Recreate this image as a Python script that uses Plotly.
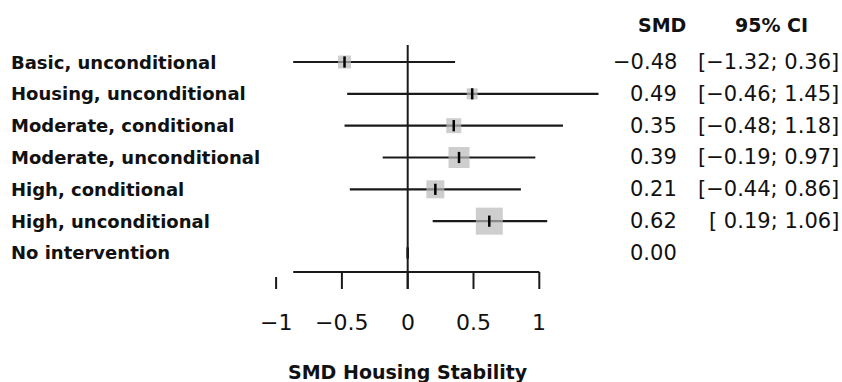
import plotly.graph_objects as go

# ---------------- data ----------------
labels = ["Basic, unconditional", "Housing, unconditional", "Moderate, conditional",
          "Moderate, unconditional", "High, conditional", "High, unconditional",
          "No intervention"]
smd = [-0.48, 0.49, 0.35, 0.39, 0.21, 0.62, 0.00]
ci_low = [-1.32, -0.46, -0.48, -0.19, -0.44, 0.19, None]
ci_high = [0.36, 1.45, 1.18, 0.97, 0.86, 1.06, None]
weights = [8.4, 6.0, 11.2, 22.0, 16.1, 36.3, None]
tick_vals = [-1, -0.5, 0, 0.5, 1]
tick_text = ["\u22121", "\u22120.5", "0", "0.5", "1"]
x_title = "SMD Housing Stability"
col_headers = ["SMD", "95% CI"]
x_clip = -0.87          # left plotting limit of the forest region

# ---------------- layout helpers ----------------
W, H = 842, 382
X0_PX, UNIT_PX = 407.7, 131.6      # pixel of x=0 and pixels per unit
ROW0_PX, ROW_PX = 62.0, 31.83      # pixel of first row and row spacing


def ry(pix):
    """pixel y -> row coordinate"""
    return (pix - ROW0_PX) / ROW_PX


def px(pix):
    """pixel x -> paper x"""
    return pix / W


def fmt(v):
    s = "{:.2f}".format(abs(v))
    return ("\u2212" + s) if v < 0 else s


def fmt_ci(lo, hi):
    los = fmt(lo) if lo < 0 else " " + fmt(lo)
    return "[" + los + "; " + fmt(hi) + "]"


INK = "#111111"
LINE = "#1a1a1a"
GRAY = "#b9b9b9"
rows = list(range(len(labels)))

fig = go.Figure()

# CI lines
lx, ly = [], []
for i, (lo, hi) in enumerate(zip(ci_low, ci_high)):
    if lo is None:
        continue
    lx += [max(lo, x_clip), hi, None]
    ly += [i, i, None]
fig.add_trace(go.Scatter(x=lx, y=ly, mode="lines",
                         line=dict(color=LINE, width=2.2), hoverinfo="skip"))

# weighted squares
wmax = max(w for w in weights if w is not None)
sq_x, sq_y, sq_s = [], [], []
for i, (m, w) in enumerate(zip(smd, weights)):
    if w is None:
        continue
    sq_x.append(m)
    sq_y.append(i)
    sq_s.append(27 * (w / wmax) ** 0.5)
fig.add_trace(go.Scatter(x=sq_x, y=sq_y, mode="markers",
                         marker=dict(symbol="square", size=sq_s, color=GRAY,
                                     line=dict(width=0)),
                         hoverinfo="skip"))

# point estimate ticks
fig.add_trace(go.Scatter(x=smd, y=rows, mode="markers",
                         marker=dict(symbol="line-ns", size=8,
                                     line=dict(color="#000000", width=2.5)),
                         hoverinfo="skip"))

# reference line at 0
y_axis = ry(272)
y_tick_end = ry(289)
fig.add_shape(type="line", x0=0, x1=0, y0=ry(45), y1=y_tick_end,
              line=dict(color=LINE, width=2))

# axis line and ticks
fig.add_shape(type="line", x0=x_clip, x1=max(tick_vals), y0=y_axis, y1=y_axis,
              line=dict(color=LINE, width=2.2))
for t in tick_vals:
    y_start = y_axis if t >= x_clip else ry(277)
    fig.add_shape(type="line", x0=t, x1=t, y0=y_start, y1=y_tick_end,
                  line=dict(color=LINE, width=2))

annotations = []
for t, tt in zip(tick_vals, tick_text):
    annotations.append(dict(x=t, y=ry(322), xref="x", yref="y", text=tt,
                            showarrow=False, xanchor="center", yanchor="middle",
                            font=dict(size=22, color=INK)))
annotations.append(dict(x=0, y=ry(372), xref="x", yref="y",
                        text="<b>" + x_title + "</b>", showarrow=False,
                        xanchor="center", yanchor="middle",
                        font=dict(size=19, color=INK)))

# left labels
for i, lab in enumerate(labels):
    annotations.append(dict(x=px(9), y=i, xref="paper", yref="y",
                            text="<b>" + lab + "</b>", showarrow=False,
                            xanchor="left", yanchor="middle",
                            font=dict(size=18, color=INK)))

# headers
annotations.append(dict(x=px(662), y=ry(25), xref="paper", yref="y",
                        text="<b>" + col_headers[0] + "</b>", showarrow=False,
                        xanchor="center", yanchor="middle",
                        font=dict(size=19, color=INK)))
annotations.append(dict(x=px(771), y=ry(25), xref="paper", yref="y",
                        text="<b>" + col_headers[1] + "</b>", showarrow=False,
                        xanchor="center", yanchor="middle",
                        font=dict(size=19, color=INK)))

# right-hand numeric columns
for i, (m, lo, hi) in enumerate(zip(smd, ci_low, ci_high)):
    annotations.append(dict(x=px(679), y=i, xref="paper", yref="y",
                            text=fmt(m), showarrow=False,
                            xanchor="right", yanchor="middle",
                            font=dict(size=21, color=INK)))
    if lo is not None:
        annotations.append(dict(x=px(841), y=i, xref="paper", yref="y",
                                text=fmt_ci(lo, hi).replace(" ", "\u00a0"),
                                showarrow=False,
                                xanchor="right", yanchor="middle",
                                font=dict(size=21, color=INK)))

fig.update_layout(
    width=W, height=H,
    margin=dict(l=0, r=0, t=0, b=0, pad=0),
    paper_bgcolor="white", plot_bgcolor="white",
    showlegend=False,
    font=dict(family="DejaVu Sans", color=INK),
    xaxis=dict(visible=False, range=[-X0_PX / UNIT_PX, (W - X0_PX) / UNIT_PX],
               fixedrange=True),
    yaxis=dict(visible=False, range=[ry(H), ry(0)], fixedrange=True),
    annotations=annotations,
)

fig.write_html("out.html", config={"displayModeBar": False})
